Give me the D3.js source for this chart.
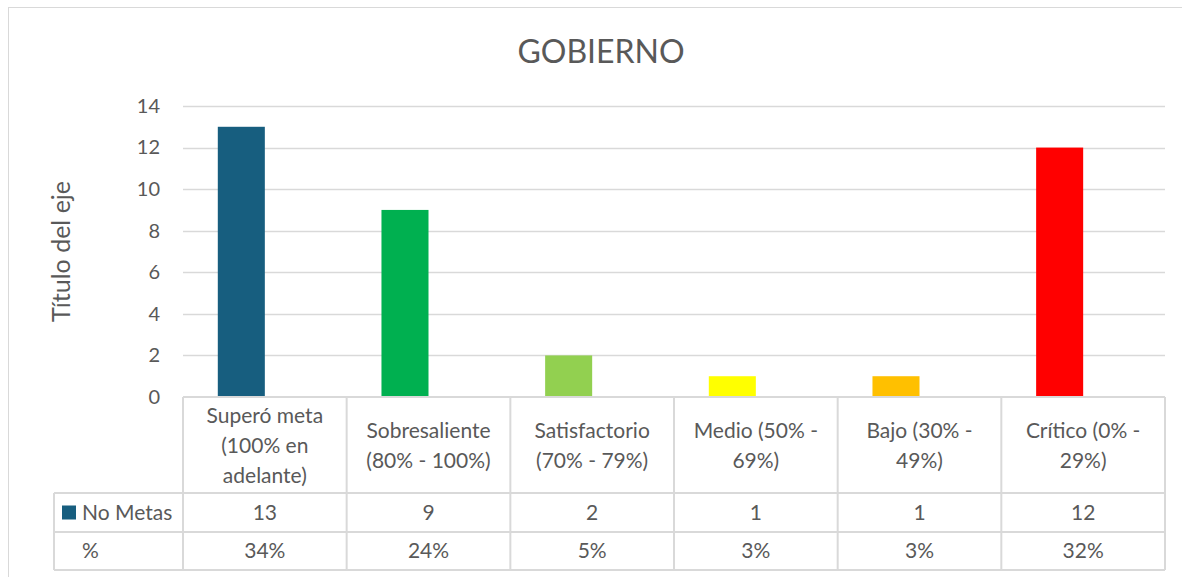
<!DOCTYPE html>
<head>
<meta charset="utf-8">
<title>GOBIERNO</title>
<script src="https://cdn.jsdelivr.net/npm/d3@7"></script>
<style>
    body { margin: 0; background: #fff; }
    text { font-family: Lato, "Open Sans", sans-serif; fill: #595959; }
</style>
</head>
<body>
<script>
    // data
    var categories = [
        ["Superó meta", "(100% en", "adelante)"],
        ["Sobresaliente", "(80%  - 100%)"],
        ["Satisfactorio", "(70% - 79%)"],
        ["Medio (50%  -", "69%)"],
        ["Bajo (30% -", "49%)"],
        ["Crítico (0% -", "29%)"]
    ];
    var noMetas = [13, 9, 2, 1, 1, 12];
    var pct = [0.34, 0.24, 0.05, 0.03, 0.03, 0.32];
    var pctLabels = ["34%", "24%", "5%", "3%", "3%", "32%"];
    var barColors = ["#175e7f", "#00b050", "#92d050", "#ffff00", "#ffc000", "#ff0000"];
    var yTicks = [0, 2, 4, 6, 8, 10, 12, 14];
    var seriesNames = ["No Metas", "%"];

    var W = 1182, H = 577;
    var plot = {left: 183, right: 1165, top: 106, bottom: 397};
    var rowH = [96, 39, 38];
    var tableLeft = 54;
    var gridColor = "#d9d9d9";
    var fs = "21px";

    var svg = d3.select("body").append("svg")
        .attr("width", W)
        .attr("height", H);

    // chart border
    svg.append("rect")
        .attr("x", 8.5).attr("y", 7.5)
        .attr("width", W).attr("height", H)
        .attr("fill", "none")
        .attr("stroke", gridColor);

    var keys = categories.map((d, i) => i);

    var x = d3.scaleBand()
        .domain(keys)
        .range([plot.left, plot.right])
        .paddingInner(0).paddingOuter(0);

    var xInner = d3.scaleBand()
        .domain(seriesNames)
        .range([0, x.bandwidth()])
        .paddingInner(0).paddingOuter(0.74);

    var y = d3.scaleLinear()
        .domain([0, 14])
        .range([plot.bottom, plot.top]);

    // gridlines
    svg.append("g")
        .selectAll("line")
        .data(yTicks.filter(d => d > 0))
        .enter().append("line")
        .attr("x1", plot.left).attr("x2", plot.right)
        .attr("y1", d => Math.round(y(d)) + 0.5)
        .attr("y2", d => Math.round(y(d)) + 0.5)
        .attr("stroke", gridColor)
        .attr("stroke-width", 1.5);

    // y axis labels
    var yAxis = svg.append("g")
        .attr("transform", "translate(" + plot.left + ",0)")
        .call(d3.axisLeft(y).tickValues(yTicks).tickSize(0).tickPadding(23));
    yAxis.select(".domain").remove();
    yAxis.selectAll("text")
        .style("font-size", "20px")
        .attr("fill", null);

    // axis title
    svg.append("text")
        .attr("transform", "translate(70," + ((plot.top + plot.bottom) / 2) + ") rotate(-90)")
        .attr("text-anchor", "middle")
        .style("font-size", "25px")
        .text("Título del eje");

    // chart title
    svg.append("text")
        .attr("x", 601)
        .attr("y", 63)
        .attr("text-anchor", "middle")
        .style("font-size", "32px")
        .text("GOBIERNO");

    // bars: No Metas coloured by category, % series kept without fill
    svg.append("g")
        .selectAll("rect")
        .data(noMetas)
        .enter().append("rect")
        .attr("x", (d, i) => x(i) + xInner("No Metas"))
        .attr("width", xInner.bandwidth())
        .attr("y", d => y(d))
        .attr("height", d => y(0) - y(d))
        .attr("fill", (d, i) => barColors[i]);

    svg.append("g")
        .selectAll("rect")
        .data(pct)
        .enter().append("rect")
        .attr("x", (d, i) => x(i) + xInner("%"))
        .attr("width", xInner.bandwidth())
        .attr("y", d => y(d))
        .attr("height", d => y(0) - y(d))
        .attr("fill", "none");

    // data table
    var t = svg.append("g")
        .attr("stroke", gridColor)
        .attr("stroke-width", 2);
    var r0 = plot.bottom, r1 = r0 + rowH[0], r2 = r1 + rowH[1], r3 = r2 + rowH[2];
    [r0].forEach(v => t.append("line").attr("x1", plot.left).attr("x2", plot.right).attr("y1", v).attr("y2", v));
    [r1, r2, r3].forEach(v => t.append("line").attr("x1", tableLeft).attr("x2", plot.right).attr("y1", v).attr("y2", v));
    t.append("line").attr("x1", tableLeft).attr("x2", tableLeft).attr("y1", r1).attr("y2", r3);
    keys.concat([keys.length]).forEach(function(k) {
        var xv = k < keys.length ? x(k) : plot.right;
        t.append("line").attr("x1", xv).attr("x2", xv).attr("y1", r0).attr("y2", r3);
    });

    // category labels
    var lineH = 30;
    svg.append("g")
        .selectAll("text")
        .data(categories)
        .enter().append("text")
        .attr("text-anchor", "middle")
        .style("font-size", fs)
        .each(function(lines, i) {
            var cx = x(i) + x.bandwidth() / 2;
            var cy = (r0 + r1) / 2 - (lines.length - 1) * lineH / 2;
            d3.select(this).selectAll("tspan")
                .data(lines)
                .enter().append("tspan")
                .attr("x", cx)
                .attr("y", (l, j) => cy + j * lineH + 8)
                .text(l => l);
        });

    // values rows
    svg.append("g")
        .selectAll("text")
        .data(noMetas)
        .enter().append("text")
        .attr("x", (d, i) => x(i) + x.bandwidth() / 2)
        .attr("y", (r1 + r2) / 2 + 7)
        .attr("text-anchor", "middle")
        .style("font-size", fs)
        .text(d => d);

    svg.append("g")
        .selectAll("text")
        .data(pctLabels)
        .enter().append("text")
        .attr("x", (d, i) => x(i) + x.bandwidth() / 2)
        .attr("y", (r2 + r3) / 2 + 7)
        .attr("text-anchor", "middle")
        .style("font-size", fs)
        .text(d => d);

    // row headers
    svg.append("rect")
        .attr("x", 62).attr("y", (r1 + r2) / 2 - 7)
        .attr("width", 14).attr("height", 14)
        .attr("fill", barColors[0]);
    svg.append("text")
        .attr("x", 82).attr("y", (r1 + r2) / 2 + 7)
        .style("font-size", fs)
        .text(seriesNames[0]);
    svg.append("text")
        .attr("x", 82).attr("y", (r2 + r3) / 2 + 7)
        .style("font-size", fs)
        .text(seriesNames[1]);
</script>
</body>
</html>
